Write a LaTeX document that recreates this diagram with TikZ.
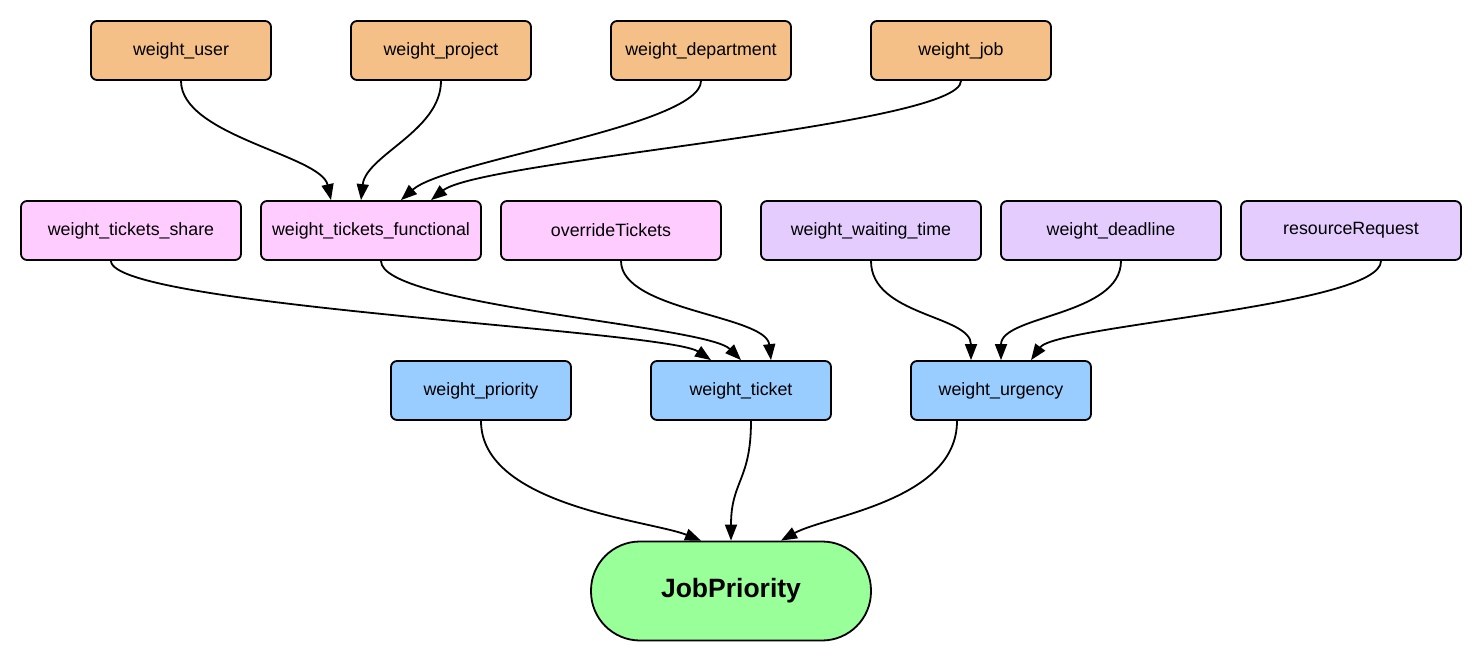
\documentclass[tikz,border=0pt]{standalone}
\usepackage{fontspec}
\setmainfont{Liberation Sans}
\usetikzlibrary{arrows.meta}
\definecolor{corange}{HTML}{F5BF88}
\definecolor{cpink}{HTML}{FFCCFF}
\definecolor{clav}{HTML}{E5CCFF}
\definecolor{cblue}{HTML}{99CCFF}
\definecolor{cgreen}{HTML}{99FF99}
\begin{document}
\begin{tikzpicture}[x=1pt,y=-1pt,
  box/.style={draw=black,line width=1.8pt,rounded corners=6pt,minimum height=59pt,inner sep=0pt,
    font=\fontsize{17.8}{20}\selectfont,anchor=center},
  sbox/.style={box,minimum width=180pt},
  wbox/.style={box,minimum width=220pt},
  conn/.style={draw=black,line width=1.8pt,-{Triangle[length=16pt,width=12pt]}}]
\useasboundingbox (0,0) rectangle (1483,663);
% top row
\node[sbox,fill=corange] (user) at (181,50.5) {weight\_user};
\node[sbox,fill=corange] (proj) at (441,50.5) {weight\_project};
\node[sbox,fill=corange] (dept) at (701,50.5) {weight\_department};
\node[sbox,fill=corange] (job) at (961,50.5) {weight\_job};
% second row
\node[wbox,fill=cpink] (share) at (131,230.5) {weight\_tickets\_share};
\node[wbox,fill=cpink] (func) at (371,230.5) {weight\_tickets\_functional};
\node[wbox,fill=cpink] (over) at (611,230.5) {overrideTickets};
\node[wbox,fill=clav] (wait) at (871,230.5) {weight\_waiting\_time};
\node[wbox,fill=clav] (dead) at (1111,230.5) {weight\_deadline};
\node[wbox,fill=clav] (res) at (1351,230.5) {resourceRequest};
% third row
\node[sbox,fill=cblue] (prio) at (481,390.5) {weight\_priority};
\node[sbox,fill=cblue] (tick) at (741,390.5) {weight\_ticket};
\node[sbox,fill=cblue] (urg) at (1001,390.5) {weight\_urgency};
% result
\node[draw=black,line width=1.8pt,fill=cgreen,rounded corners=49pt,minimum width=280pt,minimum height=99pt,
  inner sep=0pt,font=\fontsize{26.5}{30}\selectfont\bfseries] (jp) at (731,591) {JobPriority};
% connectors top -> second
\draw[conn] (user.south) .. controls +(0,55) and +(-10,-45) .. ([xshift=-40pt]func.north);
\draw[conn] (proj.south) .. controls +(0,50) and +(5,-45) .. ([xshift=-10pt]func.north);
\draw[conn] (dept.south) .. controls +(0,45) and +(45,-40) .. ([xshift=30pt]func.north);
\draw[conn] (job.south) .. controls +(0,45) and +(50,-40) .. ([xshift=60pt]func.north);
% second -> third
\draw[conn] ([xshift=-20pt]share.south) .. controls +(0,45) and +(-45,-30) .. ([xshift=-30pt]tick.north);
\draw[conn] ([xshift=10pt]func.south) .. controls +(0,45) and +(-35,-35) .. (tick.north);
\draw[conn] ([xshift=10pt]over.south) .. controls +(0,50) and +(-5,-45) .. ([xshift=30pt]tick.north);
\draw[conn] (wait.south) .. controls +(0,55) and +(0,-45) .. ([xshift=-30pt]urg.north);
\draw[conn] ([xshift=10pt]dead.south) .. controls +(0,55) and +(0,-45) .. (urg.north);
\draw[conn] ([xshift=30pt]res.south) .. controls +(0,45) and +(25,-35) .. ([xshift=30pt]urg.north);
% third -> result
\draw[conn] (prio.south) .. controls +(0,85) and +(-50,-20) .. ([xshift=-30pt]jp.north);
\draw[conn] ([xshift=10pt]tick.south) .. controls +(0,60) and +(0,-60) .. (jp.north);
\draw[conn] ([xshift=-44pt]urg.south) .. controls +(0,80) and +(45,-25) .. ([xshift=50pt]jp.north);
\end{tikzpicture}
\end{document}
